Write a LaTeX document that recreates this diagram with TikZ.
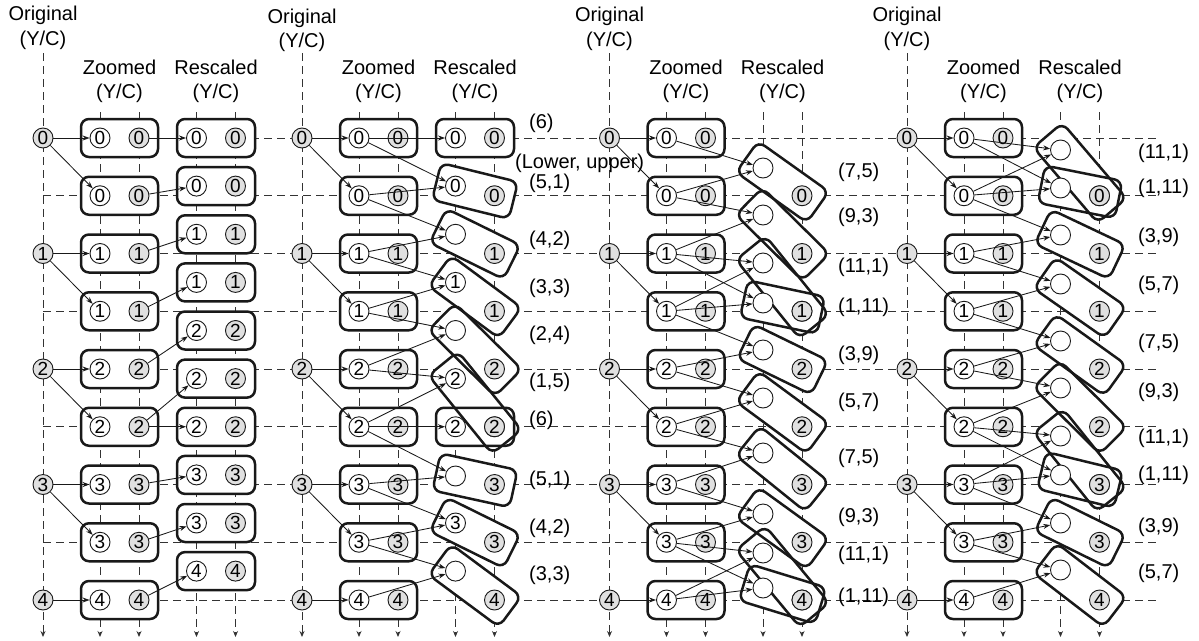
\documentclass[tikz,border=0pt]{standalone}
\usepackage{fontspec}
\setmainfont{Liberation Sans}
\usetikzlibrary{arrows.meta}
\newcommand\rescbox[5]{%
  \pgfmathsetmacro\rbang{atan2(-((#4)-(#2)),(#3)-(#1))}%
  \pgfmathsetmacro\rblen{veclen((#3)-(#1),(#4)-(#2))+39}%
  \node[#5, minimum width=\rblen pt, rotate=\rbang] at ({((#1)+(#3))/2},{((#2)+(#4))/2}) {};%
}
\newcommand\panelR[7]{%
  \foreach \k in {0,...,8} {\node[bxfill] (zbf#1-\k) at ({#2+76.5},{138+57.75*\k}) {};}
  \foreach \j/\yl/\yr/\ll/\rl in {#3} {\rescbox{#2+153.5}{\yl}{#2+192.5}{\yr}{bxfill, name=rbf#1-\j}}
  \foreach \k in {0,...,8} {\node[bxline] (zb#1-\k) at ({#2+76.5},{138+57.75*\k}) {};}
  \foreach \j/\yl/\yr/\ll/\rl in {#3} {\rescbox{#2+153.5}{\yl}{#2+192.5}{\yr}{bxline, name=rb#1-\j}}
  \foreach \i in {0,...,4} {\node[gc] (o#1-\i) at (#2,{138+115.5*\i}) {\i};}
  \foreach \k in {0,...,8} {\pgfmathtruncatemacro\kl{\k/2}
     \node[wc] (zl#1-\k) at ({#2+57},{138+57.75*\k}) {\kl};
     \node[gc] (zr#1-\k) at ({#2+96},{138+57.75*\k}) {\kl};}
  \foreach \j/\yl/\yr/\ll/\rl in {#3} {
     \node[gc] (rr#1-\j) at ({#2+192.5},\yr) {\rl};
     \node[wc] (rl#1-\j) at ({#2+153.5},\yl) {\ifnum\ll<0 \else\ll\fi};}
  \foreach \i in {0,...,3} {\pgfmathtruncatemacro\ia{2*\i}\pgfmathtruncatemacro\ib{2*\i+1}
     \draw[arr] (o#1-\i) -- (zl#1-\ia); \draw[arr] (o#1-\i) -- (zl#1-\ib);}
  \draw[arr] (o#1-4) -- (zl#1-8);
  \foreach \k/\j in {#4} {\draw[arr] (#5#1-\k) -- (rl#1-\j);}
  \node[lab, anchor=base] (to#1) at (#2,#6) {Original};
  \node[lab, anchor=base] (ty#1) at (#2,#7) {(Y/C)};
  \node[lab, anchor=base] (tz#1) at ({#2+76.5},74) {Zoomed};
  \node[lab, anchor=base] (tzy#1) at ({#2+76.5},98) {(Y/C)};
  \node[lab, anchor=base] (tr#1) at ({#2+173},74) {Rescaled};
  \node[lab, anchor=base] (try#1) at ({#2+173},98) {(Y/C)};
}
\begin{document}
\begin{tikzpicture}[x=1pt,y=-1pt,
  dl/.style={dash pattern=on 8pt off 5pt, line width=0.9pt, draw=black!80},
  bx/.style={rectangle, rounded corners=8pt, minimum height=38pt, minimum width=77pt, inner sep=0pt},
  bxfill/.style={bx, fill=white},
  bxline/.style={bx, draw=black!90, line width=2.5pt},
  wc/.style={circle, draw=black!90, fill=white, line width=0.9pt, minimum size=20pt, inner sep=0pt, font=\fontsize{19}{19}\selectfont},
  gc/.style={wc, fill=black!12},
  arr/.style={-{Stealth[length=7pt,width=5pt]}, line width=0.85pt, draw=black!90},
  lab/.style={font=\fontsize{20}{24}\selectfont, inner sep=0pt},
]
\useasboundingbox (0,0) rectangle (1199,640);
% grid
\foreach \k in {0,...,8} {\draw[dl] (43,{138+57.75*\k}) -- (1157,{138+57.75*\k});}
\foreach \O in {43,302,609.5,907} {
  \draw[dl, -{Stealth[length=6pt,width=5pt]}] (\O,53) -- (\O,637);
  \foreach \dx in {57,96,153.5,192.5} {\draw[dl, -{Stealth[length=6pt,width=5pt]}] ({\O+\dx},112) -- ({\O+\dx},637);}
}
% panels
\panelR{1}{43}{0/138/138/0/0, 1/186.1/186.1/0/0, 2/234.3/234.3/1/1, 3/282.4/282.4/1/1, 4/330.5/330.5/2/2, 5/378.6/378.6/2/2, 6/426.75/426.75/2/2, 7/474.9/474.9/3/3, 8/523/523/3/3, 9/571.1/571.1/4/4}{0/0,1/1,2/2,3/3,4/4,5/5,5/6,6/7,7/8,8/9}{zr}{20.5}{45.5}
\panelR{2}{302}{0/138/138/0/0, 1/186.1/195.75/0/0, 2/234.3/253.5/-1/1, 3/282.4/311.25/1/1, 4/330.5/369/-1/2, 5/378.6/426.75/2/2, 6/426.75/426.75/2/2, 7/476/484.5/-1/3, 8/523/542.25/3/3, 9/571.1/600/-1/4}{0/0,0/1,1/1,1/2,2/2,2/3,3/3,3/4,4/4,4/5,5/5,5/6,5/7,6/7,6/8,7/8,7/9,8/9}{zl}{23.5}{47.5}
\panelR{3}{609.5}{1/168/195.75/-1/0, 2/215/253.5/-1/1, 3/263/311.25/-1/1, 4/303/311.25/-1/1, 5/350/369/-1/2, 6/398/426.75/-1/2, 7/453/484.5/-1/3, 8/514/542.25/-1/3, 9/553/600/-1/4, 10/588/600/-1/4}{0/1,1/1,1/2,2/2,2/3,3/3,2/4,3/4,3/5,4/5,4/6,5/6,5/7,6/7,6/8,7/8,7/9,8/9,7/10,8/10}{zl}{21.5}{46}
\panelR{4}{907}{1/150/195.75/-1/0, 2/188/195.75/-1/0, 3/235/253.5/-1/1, 4/284/311.25/-1/1, 5/341/369/-1/2, 6/388/426.75/-1/2, 7/436/484.5/-1/3, 8/475/484.5/-1/3, 9/523/542.25/-1/3, 10/570/600/-1/4}{0/1,1/1,0/2,1/2,1/3,2/3,2/4,3/4,3/5,4/5,4/6,5/6,5/7,6/7,5/8,6/8,6/9,7/9,7/10,8/10}{zl}{21.5}{46}
% weight labels
\node[lab, anchor=west] (lbLU) at (515,163) {(Lower, upper)};
\foreach \n/\y/\t in {a/123/{(6)}, b/183/{(5,1)}, c/240/{(4,2)}, d/288/{(3,3)}, e/335/{(2,4)}, f/382/{(1,5)}, g/420/{(6)}, h/480/{(5,1)}, i/528/{(4,2)}, j/575/{(3,3)}}
  {\node[lab, anchor=west] (lb2\n) at (529,\y) {\t};}
\foreach \n/\y/\t in {a/172/{(7,5)}, b/217/{(9,3)}, c/267/{(11,1)}, d/307/{(1,11)}, e/355/{(3,9)}, f/402/{(5,7)}, g/458/{(7,5)}, h/517/{(9,3)}, i/555/{(11,1)}, j/597/{(1,11)}}
  {\node[lab, anchor=west] (lb3\n) at (838,\y) {\t};}
\foreach \n/\y/\t in {a/153/{(11,1)}, b/188/{(1,11)}, c/237/{(3,9)}, d/285/{(5,7)}, e/343/{(7,5)}, f/392/{(9,3)}, g/438/{(11,1)}, h/475/{(1,11)}, i/527/{(3,9)}, j/573/{(5,7)}}
  {\node[lab, anchor=west] (lb4\n) at (1138,\y) {\t};}
\end{tikzpicture}
\end{document}
